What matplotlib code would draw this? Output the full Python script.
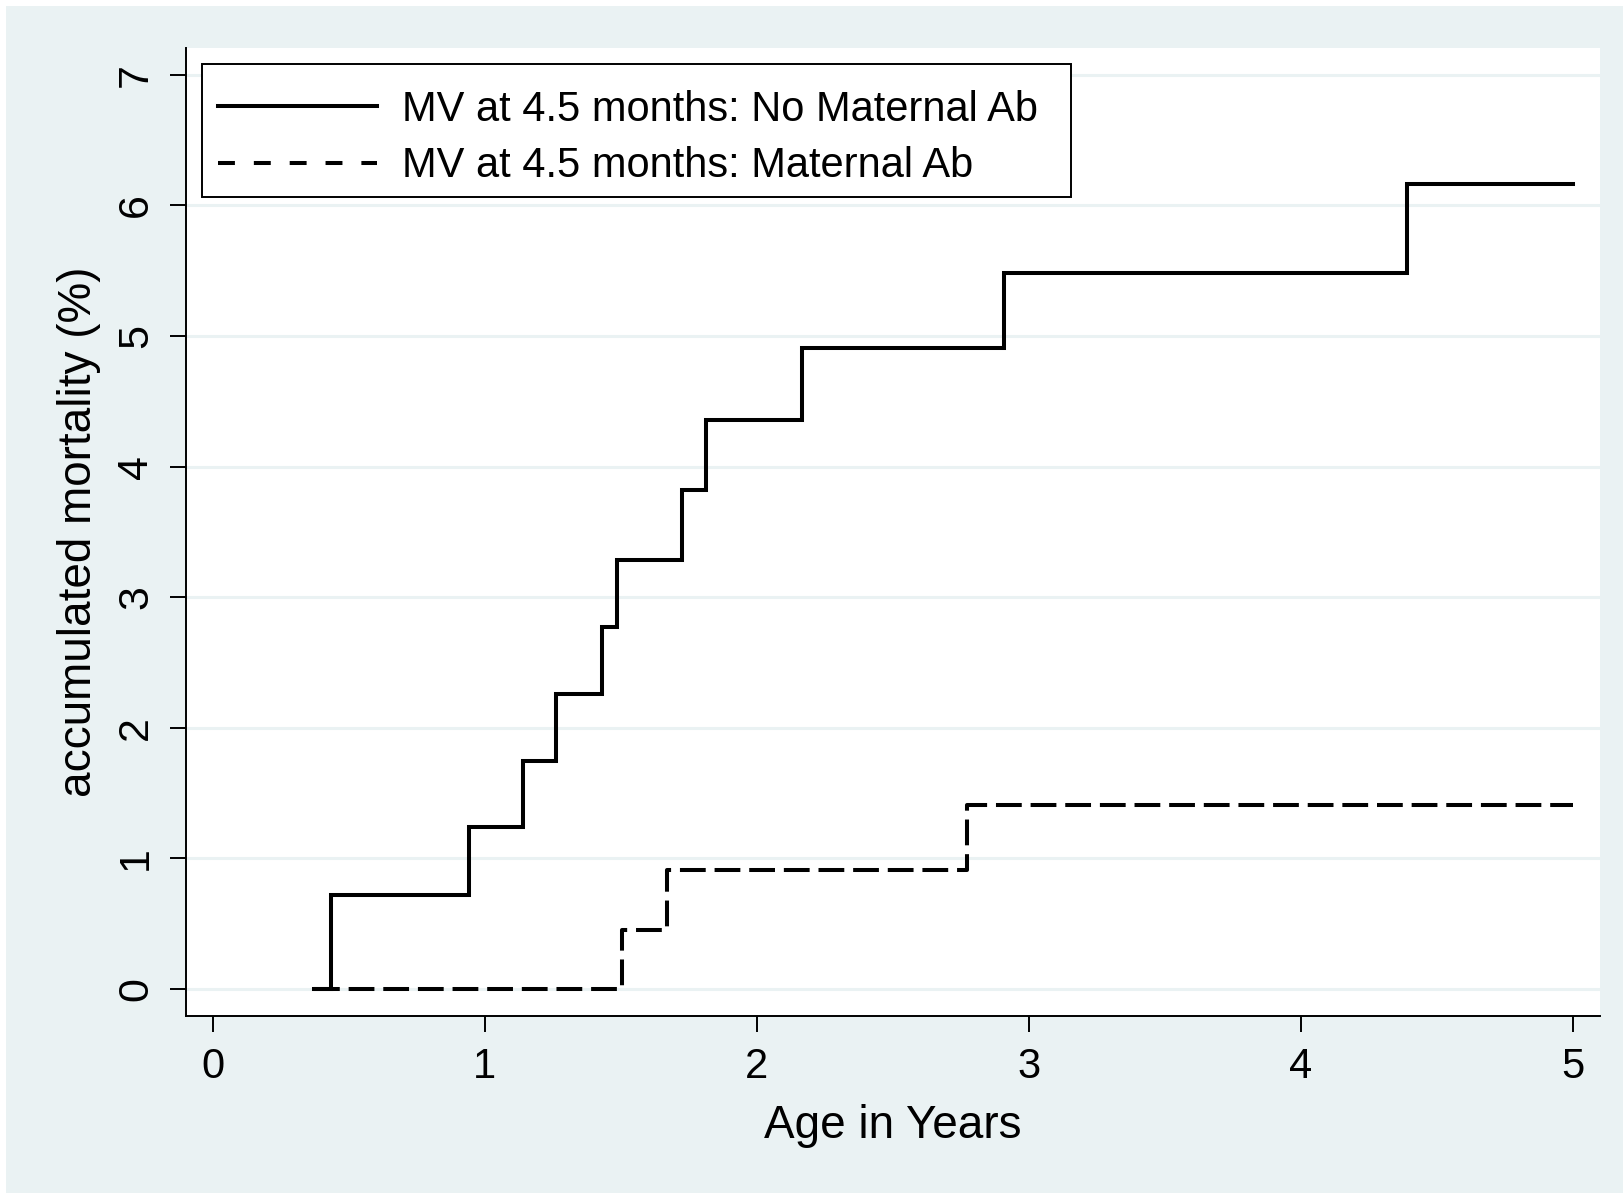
import matplotlib
matplotlib.use("Agg")
import matplotlib.pyplot as plt
from matplotlib.lines import Line2D
from matplotlib.patches import Rectangle

plt.rcParams['font.family'] = ['Liberation Sans', 'DejaVu Sans']

# Kaplan-Meier style accumulated mortality
t_no_ab = [0.373, 0.434, 0.941, 1.141, 1.262, 1.432, 1.487, 1.726, 1.812, 2.165, 2.908, 4.392, 5.0]
y_no_ab = [0.0, 0.72, 1.237, 1.745, 2.258, 2.775, 3.287, 3.82, 4.36, 4.906, 5.48, 6.16, 6.16]
t_ab = [0.373, 1.504, 1.671, 2.774, 5.0]
y_ab = [0.0, 0.452, 0.908, 1.409, 1.409]

labels = ['MV at 4.5 months: No Maternal Ab', 'MV at 4.5 months: Maternal Ab']
xticks = [0, 1, 2, 3, 4, 5]
yticks = [0, 1, 2, 3, 4, 5, 6, 7]

bg = '#eaf2f3'
W, H = 1623, 1193
fig = plt.figure(figsize=(W / 100, H / 100), dpi=100, facecolor='white')
fig.patches.append(Rectangle((6 / W, 0), 1 - 6 / W, 1 - 6 / H, transform=fig.transFigure,
                             facecolor=bg, edgecolor='none', zorder=-10))

ax = fig.add_axes([186 / W, 1 - 1016 / H, (1600 - 186) / W, (1016 - 48) / H])
ax.set_facecolor('white')

ax.step(t_no_ab, y_no_ab, where='post', color='black', lw=2.9, solid_joinstyle='miter')
ax.step(t_ab, y_ab, where='post', color='black', lw=2.9, dashes=(6.4, 2.2))

ax.set_xlim(-0.099, 5.10)
ax.set_ylim(-0.207, 7.205)
ax.set_xticks(xticks)
ax.set_yticks(yticks)
ax.grid(axis='y', color=bg, lw=2.2)
ax.set_axisbelow(True)

for s in ['top', 'right']:
    ax.spines[s].set_visible(False)
for s in ['left', 'bottom']:
    ax.spines[s].set_linewidth(1.4)

ax.tick_params(direction='out', length=11.5, width=1.4, labelsize=30)
ax.tick_params(axis='x', pad=11)
ax.tick_params(axis='y', pad=10, labelsize=31)
for lab in ax.get_yticklabels():
    lab.set_rotation(90)
    lab.set_va('center')

ax.set_xlabel('Age in Years', fontsize=33, labelpad=12)
ax.set_ylabel('accumulated mortality (%)', fontsize=33, labelpad=11)

# legend box drawn as its own frame, entries placed inside it
ax.add_patch(Rectangle(((202 - 186) / 1414, 1 - (197 - 48) / 968), (1071 - 202) / 1414,
                       (197 - 64) / 968, transform=ax.transAxes, facecolor='white',
                       edgecolor='black', lw=1.4, zorder=4))
handles = [Line2D([], [], color='black', lw=2.9),
           Line2D([], [], color='black', lw=2.9, dashes=(4.2, 4.7))]
leg = ax.legend(handles, labels, loc='upper left', bbox_to_anchor=(0.0046, 0.9835),
                borderaxespad=0, fontsize=30, handlelength=3.8, handletextpad=0.6,
                labelspacing=0.4, borderpad=0.62, frameon=False)
leg.set_zorder(5)

fig.savefig('out.png', dpi=100, facecolor=fig.get_facecolor())
